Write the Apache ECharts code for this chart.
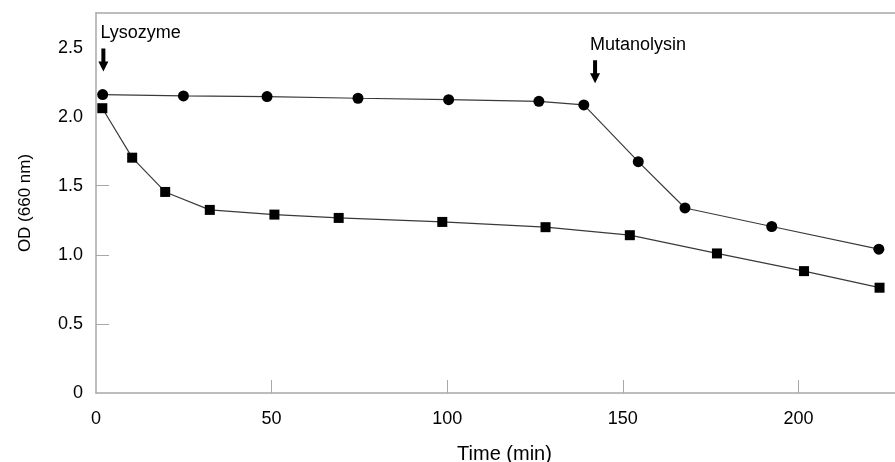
<!DOCTYPE html>
<html>
<head>
<meta charset="utf-8">
<script src="https://cdn.jsdelivr.net/npm/echarts@6/dist/echarts.min.js"></script>
<style>
  html, body { margin: 0; padding: 0; background: #fff; }
  #chart { width: 895px; height: 462px; }
</style>
</head>
<body>
<div id="chart"></div>
<script>
// circles: lysozyme first, mutanolysin added at ~140 min
const timeCircle = [1.9, 24.9, 48.7, 74.6, 100.4, 126.1, 138.9, 154.4, 167.7, 192.4, 222.9];
const odCircle = [2.16, 2.15, 2.145, 2.133, 2.123, 2.111, 2.085, 1.674, 1.339, 1.205, 1.041];

// squares
const timeSquare = [1.8, 10.3, 19.7, 32.4, 50.8, 69.1, 98.6, 128.0, 152.0, 176.8, 201.6, 223.1];
const odSquare = [2.061, 1.703, 1.455, 1.325, 1.291, 1.267, 1.238, 1.2, 1.142, 1.01, 0.882, 0.762];

const xTicks = [0, 50, 100, 150, 200];
const yTicks = [0, 0.5, 1.0, 1.5, 2.0, 2.5];

// arrows marking when the enzymes were added
const noteLabels = ["Lysozyme", "Mutanolysin"];
const noteTime = [2.1, 142.1];
const noteOd = [2.41, 2.325];

const pairs = (xs, ys) => xs.map((x, i) => [x, ys[i]]);

const chart = echarts.init(document.getElementById("chart"));

const axisGray = "#a8a8a8";
const arrowPath = "path://M3,0 L7,0 L7,13 L10,13 L5,23 L0,13 L3,13 Z";
const labelShift = [[2, -24], [0, -24]];

const option = {
  animation: false,
  grid: { left: 96, right: 0, top: 13, bottom: 69, containLabel: false, outerBoundsMode: "none" },
  xAxis: [
    {
      type: "value",
      min: 0,
      max: 227.5,
      interval: 50,
      name: "Time (min)",
      nameLocation: "middle",
      nameGap: 51,
      nameTextStyle: { fontFamily: "Liberation Sans", fontSize: 20, color: "#000", padding: [0, 0, 0, 18] },
      axisLine: { lineStyle: { color: axisGray, width: 1.5 } },
      axisTick: { inside: true, length: 13, customValues: [50, 100, 150, 200], lineStyle: { color: axisGray } },
      axisLabel: {
        customValues: xTicks,
        margin: 17,
        fontFamily: "Liberation Sans",
        fontSize: 18,
        color: "#000",
      },
      splitLine: { show: false },
    },
    {
      type: "value",
      position: "top",
      min: 0,
      max: 227.5,
      axisLine: { show: true, lineStyle: { color: axisGray, width: 1.5 } },
      axisTick: { show: false },
      axisLabel: { show: false },
      splitLine: { show: false },
    },
  ],
  yAxis: {
    type: "value",
    min: 0,
    max: 2.75,
    interval: 0.5,
    name: "OD (660 nm)",
    nameLocation: "middle",
    nameGap: 62,
    nameTextStyle: { fontFamily: "Liberation Sans", fontSize: 17, color: "#000" },
    axisLine: { show: true, lineStyle: { color: axisGray, width: 1.5 } },
    axisTick: { show: true, inside: true, length: 13, customValues: [0.5, 1.0, 1.5], lineStyle: { color: axisGray } },
    axisLabel: {
      customValues: yTicks,
      margin: 13,
      fontFamily: "Liberation Sans",
      fontSize: 18,
      color: "#000",
      formatter: (v) => (v === 0 ? "0" : v.toFixed(1)),
    },
    splitLine: { show: false },
  },
  series: [
    {
      name: "circle",
      type: "line",
      data: pairs(timeCircle, odCircle),
      symbol: "circle",
      symbolSize: 11,
      itemStyle: { color: "#000" },
      lineStyle: { color: "#3a3a3a", width: 1.2 },
    },
    {
      name: "square",
      type: "line",
      data: pairs(timeSquare, odSquare),
      symbol: "rect",
      symbolSize: 10,
      itemStyle: { color: "#000" },
      lineStyle: { color: "#3a3a3a", width: 1.2 },
    },
    {
      name: "notes",
      type: "scatter",
      silent: true,
      data: noteTime.map((t, i) => ({
        value: [t, noteOd[i]],
        name: noteLabels[i],
        label: { position: labelShift[i] },
      })),
      symbol: arrowPath,
      symbolSize: [10, 23],
      itemStyle: { color: "#000", opacity: 1 },
      label: {
        show: true,
        formatter: (p) => p.name,
        fontFamily: "Liberation Sans",
        fontSize: 18,
        color: "#000",
      },
    },
  ],
};

chart.setOption(option);
</script>
</body>
</html>
